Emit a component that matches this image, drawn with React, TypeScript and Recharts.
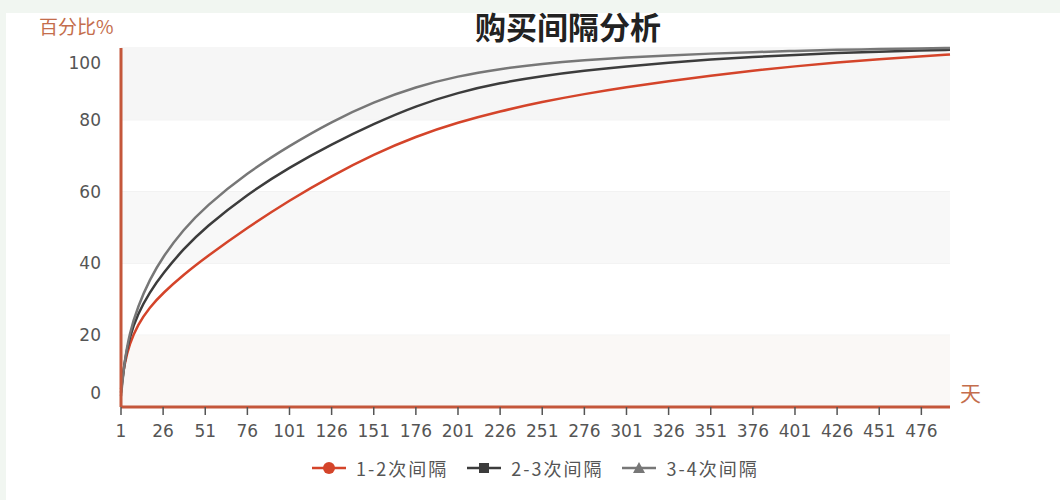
import React from "react";
import { LineChart, Line, XAxis, YAxis, CartesianGrid, ReferenceArea } from "recharts";

const days = [1, 3, 6, 11, 18, 26, 38, 51, 76, 101, 126, 151, 176, 201, 226, 251, 276, 301, 326, 351, 376, 401, 426, 451, 476, 493];
const interval12 = [5, 12, 17.5, 23, 27.8, 31.8, 36.8, 41.6, 50, 57.6, 64.4, 70.4, 75.4, 79.3, 82.4, 85, 87.2, 89.1, 90.8, 92.3, 93.7, 94.9, 96, 96.9, 97.7, 98.2];
const interval23 = [4, 12.5, 19.5, 26, 32, 37.3, 44, 50, 59.3, 66.8, 73.2, 78.9, 83.9, 87.6, 90.3, 92.2, 93.7, 94.9, 95.9, 96.8, 97.5, 98.1, 98.6, 99, 99.3, 99.5];
const interval34 = [3, 12.5, 20.5, 28, 35.5, 42, 49.4, 55.8, 65.3, 72.8, 79.5, 85, 89.2, 92.2, 94.2, 95.6, 96.6, 97.35, 97.95, 98.45, 98.85, 99.2, 99.5, 99.7, 99.88, 100];

const xTicks = [1, 26, 51, 76, 101, 126, 151, 176, 201, 226, 251, 276, 301, 326, 351, 376, 401, 426, 451, 476];
const yTicks = [0, 20, 40, 60, 80, 100];

const seriesList = [
  { key: "s12", name: "1-2次间隔", color: "#d4442a", shape: "circle" },
  { key: "s23", name: "2-3次间隔", color: "#3c3c3c", shape: "square" },
  { key: "s34", name: "3-4次间隔", color: "#777777", shape: "triangle" },
];

const data = days.map((d, i) => ({
  day: d,
  s12: interval12[i],
  s23: interval23[i],
  s34: interval34[i],
}));

const AXIS_COLOR = "#c4573b";
const NUM_FONT = "'DejaVu Sans', sans-serif";
const CJK_FONT = "'Noto Sans CJK SC', sans-serif";

// labels at the ends sit inside the plot, like the original
function YTick({ x, y, payload }: any) {
  let dy = 0;
  if (payload.value === 0) dy = -14;
  if (payload.value === 100) dy = 15;
  return (
    <text
      x={x}
      y={y + dy}
      textAnchor="end"
      dominantBaseline="central"
      fontFamily={NUM_FONT}
      fontSize={17}
      fill="#555"
    >
      {payload.value}
    </text>
  );
}

function LegendMark({ shape, color }: { shape: string; color: string }) {
  return (
    <svg width={36} height={16} style={{ display: "block" }}>
      <line x1={1} y1={8} x2={35} y2={8} stroke={color} strokeWidth={2.5} />
      {shape === "circle" && <circle cx={18} cy={8} r={6} fill={color} />}
      {shape === "square" && <rect x={13} y={3} width={10} height={10} fill={color} />}
      {shape === "triangle" && <polygon points="18,2 24,13 12,13" fill={color} />}
    </svg>
  );
}

export default function App() {
  return (
    <div
      style={{
        position: "absolute",
        left: 0,
        top: 0,
        width: 1060,
        height: 500,
        background: "#f1f6f1",
        overflow: "hidden",
      }}
    >
      <div style={{ position: "absolute", left: 6, top: 13, width: 1054, height: 487, background: "#fff" }} />
      <div
        style={{
          position: "absolute",
          left: 0,
          width: 1136,
          top: 3,
          textAlign: "center",
          fontFamily: CJK_FONT,
          fontWeight: 700,
          fontSize: 31,
          color: "#222",
        }}
      >
        购买间隔分析
      </div>
      <div
        style={{
          position: "absolute",
          left: 39,
          top: 12,
          fontFamily: CJK_FONT,
          fontSize: 19,
          color: "#c46d4c",
        }}
      >
        百分比%
      </div>
      <div
        style={{
          position: "absolute",
          left: 960,
          top: 377,
          fontFamily: CJK_FONT,
          fontSize: 21,
          color: "#c46d4c",
        }}
      >
        天
      </div>
      <div style={{ position: "absolute", left: 0, top: 0 }}>
        <LineChart width={1060} height={500} data={data} margin={{ top: 48, right: 110, bottom: 53, left: 0 }}>
          <ReferenceArea y1={80} y2={100} fill="#f6f6f6" fillOpacity={1} stroke="none" />
          <ReferenceArea y1={40} y2={60} fill="#f8f8f8" fillOpacity={1} stroke="none" />
          <ReferenceArea y1={0} y2={20} fill="#faf8f6" fillOpacity={1} stroke="none" />
          <CartesianGrid vertical={false} stroke="#ececec" />
          <XAxis
            dataKey="day"
            type="number"
            domain={[1, 493]}
            ticks={xTicks}
            interval={0}
            height={40}
            axisLine={{ stroke: AXIS_COLOR, strokeWidth: 3 }}
            tickLine={{ stroke: "#555", strokeWidth: 1.5 }}
            tickSize={8}
            tickMargin={10}
            tick={{ fontFamily: NUM_FONT, fontSize: 17, fill: "#555" }}
          />
          <YAxis
            domain={[0, 100]}
            ticks={yTicks}
            width={121}
            axisLine={{ stroke: AXIS_COLOR, strokeWidth: 3 }}
            tickLine={false}
            tickMargin={14}
            tick={<YTick />}
          />
          {seriesList.map((s) => (
            <Line
              key={s.key}
              type="basis"
              dataKey={s.key}
              name={s.name}
              stroke={s.color}
              strokeWidth={2.5}
              dot={false}
              activeDot={false}
              isAnimationActive={false}
            />
          ))}
        </LineChart>
      </div>
      <div
        style={{
          position: "absolute",
          left: 311,
          top: 455,
          display: "flex",
          gap: 18,
          fontFamily: CJK_FONT,
          fontSize: 18,
          letterSpacing: 2,
          color: "#555",
          alignItems: "center",
        }}
      >
        {seriesList.map((s) => (
          <span key={s.key} style={{ display: "flex", alignItems: "center", gap: 9 }}>
            <LegendMark shape={s.shape} color={s.color} />
            {s.name}
          </span>
        ))}
      </div>
    </div>
  );
}
